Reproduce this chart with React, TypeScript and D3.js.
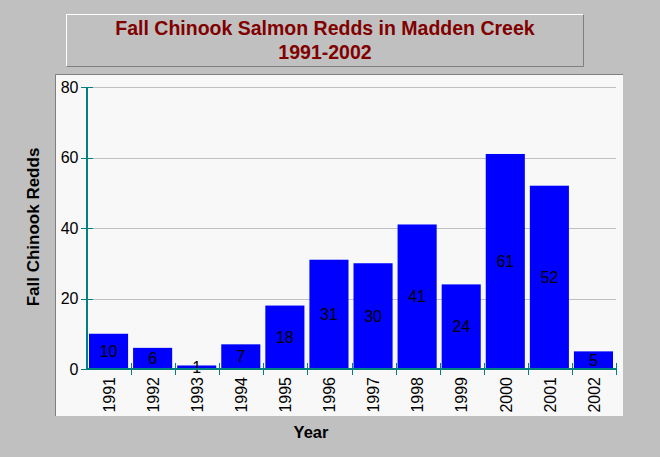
import React from "react";
import * as d3 from "d3";

const years = ["1991","1992","1993","1994","1995","1996","1997","1998","1999","2000","2001","2002"];
const redds = [10, 6, 1, 7, 18, 31, 30, 41, 24, 61, 52, 5];
const yTicks = [0, 20, 40, 60, 80];
const titleLines = ["Fall Chinook Salmon Redds in Madden Creek", "1991-2002"];
const yTitle = "Fall Chinook Redds";
const xTitle = "Year";

const W = 660, H = 457;
const AXIS = "#008080";

export default function App() {
  const x = d3.scaleBand<string>().domain(years).range([87, 616]).padding(0);
  const y = d3.scaleLinear().domain([0, 80]).range([369, 87]);
  const bw = x.bandwidth();
  const font = "Arial, 'Liberation Sans', sans-serif";
  return (
    <svg width={W} height={H} style={{ position: "absolute", left: 0, top: 0 }} fontFamily={font}>
      <rect x={0} y={0} width={W} height={H} fill="#c0c0c0" />
      {/* title box */}
      <rect x={66.5} y={14.5} width={517} height={52} fill="#c0c0c0" stroke="none" />
      <path d="M66.5,66.5 V14.5 H583.5" fill="none" stroke="#ffffff" />
      <path d="M583.5,14.5 V66.5 H66.5" fill="none" stroke="#808080" />
      {titleLines.map((t, i) => (
        <text key={i} x={325} y={34.5 + i * 24} textAnchor="middle" fontWeight="bold" fontSize={19.5} fill="#800000">{t}</text>
      ))}
      {/* plot area */}
      <rect x={56} y={75} width={567} height={341} fill="#f8f8f8" />
      <path d="M55.5,416 V74.5 H623" fill="none" stroke="#808080" />
      {/* gridlines */}
      {yTicks.filter(t => t > 0).map(t => (
        <line key={t} x1={87} x2={616} y1={Math.round(y(t)) + 0.5} y2={Math.round(y(t)) + 0.5} stroke="#c0c0c0" />
      ))}
      {/* bars */}
      {years.map((yr, i) => (
        <rect key={yr} x={(x(yr) as number) + 2} y={y(redds[i])} width={bw - 5} height={y(0) - y(redds[i])} fill="#0000ff" />
      ))}
      {years.map((yr, i) => (
        <text key={"v" + yr} x={(x(yr) as number) + 2 + (bw - 5) / 2} y={(y(redds[i]) + y(0)) / 2} dy="0.36em" textAnchor="middle" fontSize={16} fill="#000">{redds[i]}</text>
      ))}
      {/* y axis */}
      <line x1={87} x2={87} y1={y(80)} y2={y(0)} stroke={AXIS} strokeWidth={2} />
      {yTicks.map(t => (
        <g key={t}>
          <line x1={81} x2={93} y1={Math.round(y(t)) + 0.5} y2={Math.round(y(t)) + 0.5} stroke={AXIS} />
          <text x={78.5} y={y(t)} dy="0.36em" textAnchor="end" fontSize={16} fill="#000">{t}</text>
        </g>
      ))}
      {/* x axis */}
      <line x1={87} x2={616} y1={369} y2={369} stroke={AXIS} strokeWidth={2} />
      {years.map((yr) => (
        <line key={"t" + yr} x1={Math.round((x(yr) as number) + bw) + 0.5} x2={Math.round((x(yr) as number) + bw) + 0.5} y1={363} y2={375} stroke={AXIS} />
      ))}
      {years.map((yr) => {
        const cx = (x(yr) as number) + bw / 2;
        return (
          <text key={"l" + yr} transform={`translate(${cx},377) rotate(-90)`} dy="0.36em" textAnchor="end" fontSize={16} fill="#000">{yr}</text>
        );
      })}
      {/* axis titles */}
      <text transform="translate(38.5,227) rotate(-90)" textAnchor="middle" fontWeight="bold" fontSize={17} fill="#000">{yTitle}</text>
      <text x={311} y={438} textAnchor="middle" fontWeight="bold" fontSize={16.5} fill="#000">{xTitle}</text>
    </svg>
  );
}
